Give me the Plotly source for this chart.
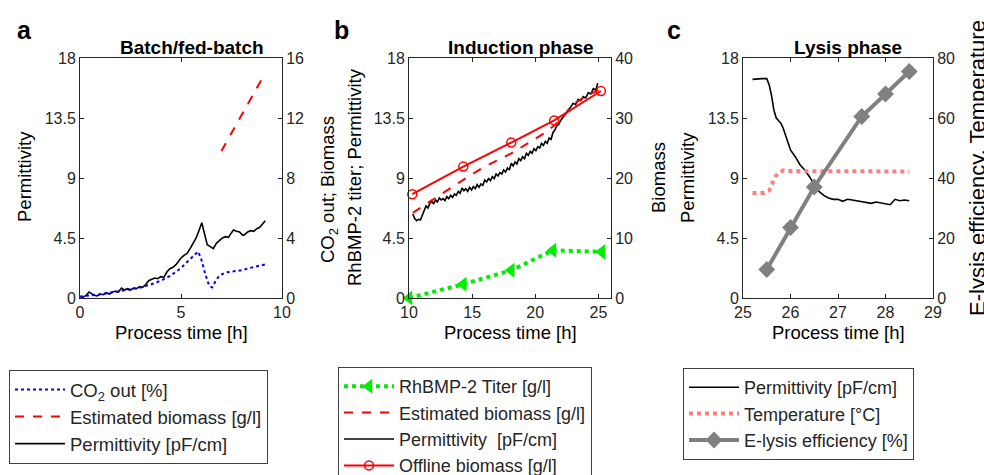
import plotly.graph_objects as go

# ---- panel a: batch / fed-batch ----
a_perm_pts = [(0, 0.1), (0.15, 0.05), (0.3, 0.2), (0.45, 0.45), (0.55, 0.35), (0.7, 0.2), (0.85, 0.15),
              (1.0, 0.3), (1.15, 0.25), (1.3, 0.4), (1.45, 0.3), (1.6, 0.45), (1.75, 0.5), (1.9, 0.45),
              (2.05, 0.75), (2.2, 0.6), (2.35, 0.7), (2.5, 0.6), (2.65, 0.75), (2.8, 0.7), (2.95, 0.85),
              (3.1, 0.8), (3.25, 1.0), (3.4, 1.3), (3.55, 1.4), (3.7, 1.5), (3.85, 1.45), (4.0, 1.6),
              (4.15, 1.55), (4.3, 1.95), (4.45, 2.2), (4.6, 2.3), (4.75, 2.5), (4.9, 2.8), (5.0, 3.0),
              (5.15, 3.2), (5.3, 3.35), (5.45, 3.7), (5.6, 4.1), (5.75, 4.5), (5.85, 4.9), (5.95, 5.4),
              (6.03, 5.65), (6.1, 5.2), (6.2, 4.5), (6.3, 4.0), (6.45, 3.85), (6.6, 3.7), (6.75, 4.1),
              (6.9, 4.3), (7.05, 4.5), (7.2, 4.6), (7.35, 4.55), (7.5, 4.9), (7.6, 5.1), (7.75, 5.0),
              (7.9, 4.95), (8.05, 4.7), (8.15, 4.75), (8.3, 4.95), (8.45, 5.05), (8.6, 5.0), (8.75, 5.2),
              (8.9, 5.3), (9.05, 5.55), (9.17, 5.8)]
a_co2_t = [0, 0.5, 1.0, 1.5, 2.0, 2.5, 3.0, 3.5, 4.0, 4.5, 5.0, 5.3, 5.6, 5.85, 6.0, 6.2, 6.4, 6.55,
           6.7, 6.9, 7.2, 7.6, 8.0, 8.4, 8.8, 9.2]
a_co2 = [0.1, 0.15, 0.25, 0.35, 0.45, 0.55, 0.7, 0.9, 1.15, 1.5, 2.0, 2.4, 2.8, 3.1, 2.6, 1.6, 0.8,
         0.7, 1.1, 1.5, 1.7, 1.75, 1.85, 2.0, 2.1, 2.25]
a_bio_t = [7.0, 8.0, 9.17]
a_bio = [9.8, 12.2, 15.0]

# ---- panel b: induction phase ----
b_perm_pts = [(10.3, 6.3), (10.45, 5.95), (10.6, 5.8), (10.75, 5.9), (10.9, 5.85), (11.05, 6.2),
              (11.2, 6.5), (11.35, 6.9), (11.5, 6.75), (11.65, 7.1), (11.8, 7.3), (11.95, 7.05),
              (12.1, 7.35), (12.25, 7.2), (12.4, 7.5), (12.55, 7.35), (12.7, 7.45), (12.85, 7.3),
              (13.0, 7.6), (13.15, 7.45), (13.3, 7.7), (13.45, 7.55), (13.6, 7.8), (13.75, 7.7),
              (13.9, 8.0), (14.05, 7.85), (14.2, 8.25), (14.35, 8.05), (14.5, 8.2), (14.65, 8.0),
              (14.8, 8.3), (14.95, 8.1), (15.1, 8.35), (15.25, 8.2), (15.4, 8.5), (15.55, 8.3),
              (15.7, 8.55), (15.85, 8.45), (16.0, 8.85), (16.15, 8.7), (16.3, 8.95), (16.45, 8.8),
              (16.6, 9.1), (16.75, 8.95), (16.9, 9.3), (17.05, 9.15), (17.2, 9.4), (17.35, 9.3),
              (17.5, 9.6), (17.65, 9.45), (17.8, 9.75), (17.95, 9.6), (18.1, 10.1), (18.25, 9.9),
              (18.4, 10.2), (18.55, 10.05), (18.7, 10.45), (18.85, 10.3), (19.0, 10.6), (19.15, 10.45),
              (19.3, 10.85), (19.45, 10.7), (19.6, 11.0), (19.75, 10.85), (19.9, 11.2), (20.05, 11.05),
              (20.2, 11.35), (20.35, 11.25), (20.5, 11.6), (20.65, 11.45), (20.8, 11.75), (20.95, 11.6),
              (21.1, 12.0), (21.25, 11.9), (21.4, 12.4), (21.55, 12.6), (21.7, 12.9), (21.85, 13.0),
              (22.0, 13.3), (22.2, 13.6), (22.4, 13.85), (22.6, 14.1), (22.8, 14.3), (23.0, 14.6),
              (23.2, 14.5), (23.4, 14.9), (23.6, 14.8), (23.8, 15.1), (24.0, 15.0), (24.2, 15.4),
              (24.4, 15.3), (24.6, 15.7), (24.8, 15.6), (24.95, 16.1)]
b_titer_t = [10.0, 14.3, 18.1, 21.4, 25.26]
b_titer = [0.0, 1.03, 2.08, 3.58, 3.46]
b_est_t = [10.3, 12.0, 14.3, 16.0, 18.1, 20.9, 22.0, 23.0, 24.0, 25.0]
b_est = [14.2, 16.6, 19.7, 21.9, 24.1, 27.7, 29.6, 32.3, 33.6, 34.7]
b_off_t = [10.26, 14.3, 18.1, 21.5, 25.2]
b_off = [17.3, 21.9, 25.9, 29.6, 34.5]

# ---- panel c: lysis phase ----
c_perm_t = [25.2, 25.3, 25.4, 25.5, 25.55, 25.6, 25.65, 25.7, 25.75, 25.8, 25.85, 25.9, 26.0, 26.1,
            26.2, 26.3, 26.4, 26.5, 26.6, 26.7, 26.8, 26.9, 27.0, 27.1, 27.2, 27.3, 27.4, 27.5, 27.6,
            27.7, 27.8, 27.9, 28.0, 28.1, 28.2, 28.3, 28.4, 28.5]
c_perm = [16.4, 16.45, 16.45, 16.45, 16.0, 15.2, 14.1, 13.5, 13.3, 13.1, 12.7, 12.2, 11.1, 10.6, 10.0,
          9.6, 9.1, 8.5, 8.0, 7.7, 7.5, 7.4, 7.4, 7.25, 7.4, 7.35, 7.3, 7.25, 7.2, 7.1, 7.2, 7.15,
          7.05, 7.0, 7.4, 7.3, 7.35, 7.3]
c_temp_t = [25.2, 25.3, 25.45, 25.55, 25.62, 25.68, 25.75, 25.85, 26.0, 26.5, 27.0, 27.5, 28.0, 28.5]
c_temp = [35.0, 35.0, 35.0, 35.8, 38.5, 40.5, 41.7, 42.6, 42.3, 42.2, 42.2, 42.2, 42.2, 42.2]
c_lysis_t = [25.5, 26.0, 26.5, 27.5, 28.0, 28.5]
c_lysis = [9.5, 23.5, 37.0, 60.5, 68.0, 75.5]

FONT = "Liberation Sans, Arial, sans-serif"
INK = "#262626"
# page is 984x475, figure made a bit taller so the bottom legend runs off the edge like the original
W, H = 984, 500


def px(x):
    return x / W


def py(y):
    return 1 - y / H


fig = go.Figure()

# panel a
fig.add_trace(go.Scatter(x=a_co2_t, y=a_co2, xaxis="x", yaxis="y2", mode="lines",
                         line=dict(color="#0000ff", width=2, dash="dot"),
                         name="CO<sub>2</sub> out [%]", legend="legend"))
fig.add_trace(go.Scatter(x=a_bio_t, y=a_bio, xaxis="x", yaxis="y2", mode="lines",
                         line=dict(color="#ff0000", width=2, dash="dash"),
                         name="Estimated biomass [g/l]", legend="legend"))
fig.add_trace(go.Scatter(x=[p[0] for p in a_perm_pts], y=[p[1] for p in a_perm_pts],
                         xaxis="x", yaxis="y", mode="lines",
                         line=dict(color="black", width=1.6),
                         name="Permittivity [pF/cm]", legend="legend"))

# panel b
fig.add_trace(go.Scatter(x=b_titer_t, y=b_titer, xaxis="x2", yaxis="y3", mode="lines+markers",
                         line=dict(color="#00ee00", width=4, dash="dot"),
                         marker=dict(symbol="triangle-left", size=13, color="#00ee00"),
                         cliponaxis=False,
                         name="RhBMP-2 Titer [g/l]", legend="legend2"))
fig.add_trace(go.Scatter(x=b_est_t, y=b_est, xaxis="x2", yaxis="y4", mode="lines",
                         line=dict(color="#ff0000", width=2, dash="dash"),
                         name="Estimated biomass [g/l]", legend="legend2"))
fig.add_trace(go.Scatter(x=[p[0] for p in b_perm_pts], y=[p[1] for p in b_perm_pts],
                         xaxis="x2", yaxis="y3", mode="lines",
                         line=dict(color="black", width=1.6),
                         name="Permittivity  [pF/cm]", legend="legend2"))
fig.add_trace(go.Scatter(x=b_off_t, y=b_off, xaxis="x2", yaxis="y4", mode="lines+markers",
                         line=dict(color="#ff0000", width=2),
                         marker=dict(symbol="circle-open", size=9, color="#ff0000", line=dict(width=1.5)),
                         cliponaxis=False,
                         name="Offline biomass [g/l]", legend="legend2"))

# panel c
fig.add_trace(go.Scatter(x=c_perm_t, y=c_perm, xaxis="x3", yaxis="y5", mode="lines",
                         line=dict(color="black", width=1.6),
                         name="Permittivity [pF/cm]", legend="legend3"))
fig.add_trace(go.Scatter(x=c_temp_t, y=c_temp, xaxis="x3", yaxis="y6", mode="lines",
                         line=dict(color="#ff7f7f", width=4, dash="dot"),
                         name="Temperature [°C]", legend="legend3"))
fig.add_trace(go.Scatter(x=c_lysis_t, y=c_lysis, xaxis="x3", yaxis="y6", mode="lines+markers",
                         line=dict(color="#808080", width=4),
                         marker=dict(symbol="diamond", size=13, color="#808080"),
                         cliponaxis=False,
                         name="E-lysis efficiency [%]", legend="legend3"))

ax = dict(showline=True, linecolor=INK, linewidth=1, ticks="inside", ticklen=4, tickcolor=INK,
          showgrid=False, zeroline=False, tickfont=dict(size=16, color=INK, family=FONT),
          fixedrange=True)
ydom = [py(298), py(58)]

fig.update_layout(
    xaxis=dict(ax, domain=[px(80), px(282)], range=[0, 10], tickvals=[0, 5, 10], mirror="ticks", anchor="y"),
    yaxis=dict(ax, domain=ydom, range=[0, 18], tickvals=[0, 4.5, 9, 13.5, 18], anchor="x"),
    yaxis2=dict(ax, overlaying="y", side="right", range=[0, 16], tickvals=[0, 4, 8, 12, 16], anchor="x"),
    xaxis2=dict(ax, domain=[px(409), px(611)], range=[10, 26], tickvals=[10, 15, 20, 25], mirror="ticks", anchor="y3"),
    yaxis3=dict(ax, domain=ydom, range=[0, 18], tickvals=[0, 4.5, 9, 13.5, 18], anchor="x2"),
    yaxis4=dict(ax, overlaying="y3", side="right", range=[0, 40], tickvals=[0, 10, 20, 30, 40], anchor="x2"),
    xaxis3=dict(ax, domain=[px(743), px(933)], range=[25, 29], tickvals=[25, 26, 27, 28, 29], mirror="ticks", anchor="y5"),
    yaxis5=dict(ax, domain=ydom, range=[0, 18], tickvals=[0, 4.5, 9, 13.5, 18], anchor="x3"),
    yaxis6=dict(ax, overlaying="y5", side="right", range=[0, 80], tickvals=[0, 20, 40, 60, 80], anchor="x3"),
)

leg = dict(xanchor="left", yanchor="top", bgcolor="white", bordercolor="#404040", borderwidth=1,
           font=dict(size=18.5, color=INK, family=FONT), itemwidth=50, traceorder="normal",
           tracegroupgap=0)
fig.update_layout(
    legend=dict(leg, x=px(9), y=py(370)),
    legend2=dict(leg, x=px(338), y=py(367), font=dict(size=18, color=INK, family=FONT)),
    legend3=dict(leg, x=px(683), y=py(368), font=dict(size=18, color=INK, family=FONT)),
)

notes = [
    # panel letters
    dict(text="<b>a</b>", x=24, y=30, size=25, angle=0),
    dict(text="<b>b</b>", x=341, y=30, size=25, angle=0),
    dict(text="<b>c</b>", x=674, y=30, size=25, angle=0),
    # titles
    dict(text="<b>Batch/fed-batch</b>", x=192, y=48, size=19, angle=0),
    dict(text="<b>Induction phase</b>", x=521, y=48, size=19, angle=0),
    dict(text="<b>Lysis phase</b>", x=848, y=48, size=19, angle=0),
    # x titles
    dict(text="Process time [h]", x=181, y=332, size=18.5, angle=0),
    dict(text="Process time [h]", x=510, y=332, size=18.5, angle=0),
    dict(text="Process time [h]", x=838, y=332, size=18.5, angle=0),
    # y titles
    dict(text="Permittivity", x=24, y=177, size=18.5, angle=-90),
    dict(text="CO<sub>2</sub> out; Biomass", x=329, y=190, size=18.5, angle=-90),
    dict(text="RhBMP-2 titer; Permittivity", x=354, y=177, size=18.5, angle=-90),
    dict(text="Biomass", x=658, y=178, size=18.5, angle=-90),
    dict(text="Permittivity", x=687, y=178, size=18.5, angle=-90),
    dict(text="E-lysis efficiency, Temperature", x=977, y=168, size=22, angle=-90),
]
for n in notes:
    fig.add_annotation(text=n["text"], x=px(n["x"]), y=py(n["y"]), xref="paper", yref="paper",
                       xanchor="center", yanchor="middle", showarrow=False, textangle=n["angle"],
                       font=dict(size=n["size"], color="black", family=FONT))

fig.update_layout(
    width=W, height=H, margin=dict(l=0, r=0, t=0, b=0, autoexpand=False),
    paper_bgcolor="white", plot_bgcolor="white",
    font=dict(family=FONT, color=INK),
)

fig.write_html("out.html", config={"displayModeBar": False},
               post_script="document.body.style.margin='0';document.body.style.overflow='hidden';")
